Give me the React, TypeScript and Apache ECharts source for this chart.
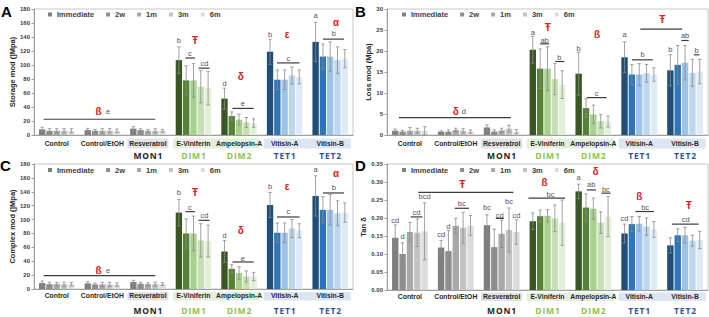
import React, { useEffect, useRef } from 'react';
import * as echarts from 'echarts';

const categories = ['Control', 'Control/EtOH', 'Resveratrol', 'E-Viniferin', 'Ampelopsin-A', 'Vitisin-A', 'Vitisin-B'];
const timepoints = ['Immediate', '2w', '1m', '3m', '6m'];
const compoundClass = ['', '', 'MON1', 'DIM1', 'DIM2', 'TET1', 'TET2'];
// which colour family each category uses
const categoryFamily = ['gray', 'gray', 'gray', 'green', 'green', 'blue', 'blue'];
// categories sharing a shaded label box: [fromCategory, toCategory]
const labelBoxSpans = [[2, 2], [3, 4], [5, 6]];

// ---- Storage modulus (MPa): rows = categories, columns = timepoints
const storageMean = [
  [8, 6, 6, 6, 6],
  [7, 6, 6, 6, 6],
  [9, 7, 6, 6, 6],
  [107, 78, 78, 69, 67],
  [52, 27, 22, 18, 17],
  [119, 79, 79, 85, 83],
  [133, 112, 112, 107, 109],
];
const storageSd = [
  [3, 3, 3, 3, 3],
  [2.5, 2, 3, 3, 2.5],
  [3, 2, 2, 3, 2],
  [19, 21, 24, 23, 24],
  [15, 6, 8, 7, 6],
  [18, 14, 14, 12, 10],
  [28, 18, 21, 19, 13],
];
// significance bars: [fromCategory, fromBar, toCategory, toBar, y]
const storageLines = [
  [0, 0.2, 2, 3.0, 22.5],
  [3, 0.9, 3, 2.2, 110],
  [3, 2.7, 3, 4.2, 95.5],
  [4, 1.1, 4, 4.0, 38],
  [5, 0.95, 5, 4.05, 103],
  [6, 1.0, 6, 3.9, 137],
];
// letters: [category, bar, y, text]
const storageLetters: [number, number, number, string][] = [
  [1, 2.77, 33, 'e'],
  [3, 0, 135, 'b'], [3, 1.5, 116.5, 'c'], [3, 3.5, 102, 'cd'],
  [4, 0, 73, 'd'], [4, 2.5, 45, 'e'],
  [5, 0, 144, 'b'], [5, 2.5, 110, 'c'],
  [6, 0, 171, 'a'], [6, 2.5, 145, 'b'],
];
const storageSymbols: [number, number, number, string][] = [
  [1, 1.48, 33, 'ß'], [3, 2.2, 135, 'Ŧ'], [4, 2.25, 83, 'δ'], [5, 2.35, 144, 'ε'], [6, 2.8, 161, 'α'],
];

// ---- Loss modulus (MPa)
const lossMean = [
  [1.0, 0.8, 1.0, 1.0, 1.0],
  [0.8, 0.8, 1.2, 1.0, 0.8],
  [1.8, 0.8, 1.1, 1.5, 0.8],
  [20.3, 15.8, 15.8, 13.3, 12.0],
  [14.6, 6.4, 4.9, 3.3, 3.2],
  [18.5, 14.4, 14.4, 14.7, 14.4],
  [15.4, 16.7, 17.2, 14.8, 15.1],
];
const lossSd = [
  [0.4, 0.3, 0.8, 0.6, 1.0],
  [0.2, 0.4, 0.4, 0.5, 0.4],
  [0.6, 0.4, 0.5, 0.8, 0.5],
  [3.2, 4.7, 5.2, 3.7, 3.3],
  [5.1, 2.2, 2.2, 1.6, 1.3],
  [3.7, 2.4, 2.6, 2.1, 1.6],
  [3.7, 4.6, 4.1, 3.2, 2.9],
];
const lossLines = [
  [0, 0.5, 2, 3.25, 4.15],
  [3, 1.0, 3, 2.2, 21.7],
  [3, 3.05, 3, 4.3, 17.5],
  [4, 1.1, 4, 3.8, 8.9],
  [5, 1.0, 5, 3.85, 17.9],
  [6, 1.5, 6, 2.5, 22.5],
  [6, 3.2, 6, 3.95, 19.1],
  [5, 2.15, 6, 1.6, 25.2],
];
const lossLetters: [number, number, number, string][] = [
  [1, 3.1, 5.5, 'd'],
  [3, 0, 24.5, 'a'], [3, 1.6, 22.6, 'ab'], [3, 3.6, 18.5, 'b'],
  [4, 0, 20.7, 'b'], [4, 2.45, 9.9, 'c'],
  [5, 0, 23.9, 'a'], [5, 2.45, 19.2, 'b'],
  [6, 0, 20.4, 'b'], [6, 2.0, 23.8, 'ab'], [6, 3.55, 20.1, 'b'],
];
const lossSymbols: [number, number, number, string][] = [
  [1, 2.0, 5.5, 'δ'], [3, 2.05, 25.7, 'Ŧ'], [4, 2.5, 23.9, 'ß'], [6, -1.1, 27.6, 'Ŧ'],
];

// ---- Complex modulus (MPa)
const complexMean = [
  [8.5, 7, 7, 7, 7],
  [8, 6.5, 6.5, 6.5, 6.5],
  [10, 7.5, 7, 7, 7],
  [110, 80, 80, 70, 69],
  [54, 29, 23, 18, 18],
  [121, 81, 81, 87, 84],
  [134, 114, 114, 109, 110],
];
const complexSd = [
  [3, 2.5, 2.5, 3, 2.5],
  [2.5, 2, 3, 3, 2.5],
  [2.5, 2, 2, 3, 2],
  [19, 21, 25, 24, 23],
  [16, 6, 9, 8, 6],
  [18, 14, 14, 13, 10],
  [29, 19, 22, 18, 14],
];
const complexLines = [
  [0, 0.2, 2, 3.0, 19.2],
  [3, 0.9, 3, 2.2, 111.4],
  [3, 2.7, 3, 4.2, 98.9],
  [4, 1.1, 4, 4.0, 38.9],
  [5, 0.95, 5, 4.05, 103.7],
  [6, 1.0, 6, 3.9, 138.3],
];
const complexLetters: [number, number, number, string][] = [
  [1, 2.77, 26.4, 'e'],
  [3, 0, 139, 'b'], [3, 1.5, 117.6, 'c'], [3, 3.5, 106, 'cd'],
  [4, 0, 76.8, 'd'], [4, 2.5, 44.6, 'e'],
  [5, 0, 147, 'b'], [5, 2.5, 110.9, 'c'],
  [6, 0, 172, 'a'], [6, 2.5, 146.4, 'b'],
];
const complexSymbols: [number, number, number, string][] = [
  [1, 1.48, 26.4, 'ß'], [3, 2.2, 139, 'Ŧ'], [4, 2.25, 84, 'δ'], [5, 2.35, 147, 'ε'], [6, 2.8, 166, 'α'],
];

// ---- Tan delta
const tanMean = [
  [0.145, 0.100, 0.161, 0.159, 0.163],
  [0.118, 0.108, 0.178, 0.173, 0.179],
  [0.180, 0.119, 0.156, 0.167, 0.161],
  [0.191, 0.205, 0.206, 0.199, 0.187],
  [0.274, 0.229, 0.226, 0.187, 0.204],
  [0.157, 0.183, 0.184, 0.176, 0.168],
  [0.124, 0.152, 0.152, 0.137, 0.139],
];
const tanSd = [
  [0.036, 0.031, 0.027, 0.038, 0.079],
  [0.020, 0.057, 0.021, 0.043, 0.028],
  [0.029, 0.050, 0.038, 0.061, 0.034],
  [0.023, 0.017, 0.017, 0.037, 0.063],
  [0.020, 0.038, 0.029, 0.030, 0.056],
  [0.026, 0.021, 0.020, 0.024, 0.022],
  [0.021, 0.018, 0.022, 0.015, 0.024],
];
const tanLines = [
  [0, 3.15, 2, 3.6, 0.271],
  [0, 2.1, 0, 3.7, 0.203],
  [1, 1.85, 1, 3.8, 0.227],
  [2, 1.2, 2, 2.3, 0.199],
  [3, -0.6, 3, 4.4, 0.255],
  [4, 1.1, 4, 2.35, 0.278],
  [4, 3.1, 4, 4.35, 0.269],
  [5, 1.5, 5, 4.0, 0.218],
  [6, 0.2, 6, 3.85, 0.183],
];
const tanLetters: [number, number, number, string][] = [
  [0, 0, 0.194, 'cd'], [0, 1, 0.148, 'd'], [0, 2.9, 0.216, 'cd'], [0, 4, 0.259, 'bcd'],
  [1, 0, 0.155, 'cd'], [1, 1, 0.176, 'd'], [1, 2.8, 0.239, 'bc'],
  [2, 0, 0.229, 'bc'], [2, 1.75, 0.208, 'cd'], [2, 3, 0.245, 'bc'], [2, 4, 0.208, 'cd'],
  [3, 2.4, 0.266, 'bc'],
  [4, 0, 0.312, 'a'], [4, 1.7, 0.292, 'ab'], [4, 3.7, 0.28, 'bc'],
  [5, 0, 0.199, 'cd'], [5, 2.8, 0.23, 'bc'],
  [6, 2.1, 0.196, 'cd'],
];
const tanSymbols: [number, number, number, string][] = [
  [1, 2.9, 0.294, 'Ŧ'], [3, 1.6, 0.299, 'ß'], [4, 2.3, 0.329, 'δ'], [5, 2.0, 0.259, 'ß'], [6, 2.5, 0.234, 'Ŧ'],
];

// ---- styling
const FONT = '"Liberation Sans", Arial, sans-serif';
const shades: Record<string, string[]> = {
  gray: ['#7f7f7f', '#8e8e8e', '#a8a8a8', '#c3c3c3', '#dcdcdc'],
  green: ['#385723', '#558235', '#a9d18e', '#c5e0b4', '#e2f0d9'],
  blue: ['#1f4e79', '#2e75b6', '#9dc3e6', '#bdd7ee', '#deebf7'],
};
const boxColors = ['#e2e2e2', '#e2efda', '#dce6f3'];
const classColor: Record<string, string> = { MON: '#262626', DIM: '#8cc34a', TET: '#2f5597' };
const LETTER_COLOR = '#555555';
const SYMBOL_COLOR = '#e0201a';
const CAT_GAP = 0.22;
const BAR_GAP = 0.15;
const NBARS = timepoints.length;

// horizontal shift of bar `pos` from its category centre (same rule ECharts uses)
function barShift(band: number, pos: number) {
  const w = (band * (1 - CAT_GAP)) / (NBARS + (NBARS - 1) * BAR_GAP);
  const total = NBARS * w + (NBARS - 1) * BAR_GAP * w;
  return -total / 2 + pos * w * (1 + BAR_GAP) + w / 2;
}

const panels = [
  {
    tag: 'A', mean: storageMean, sd: storageSd, lines: storageLines, letters: storageLetters, symbols: storageSymbols,
    yName: 'Storage mod (]Mpa)', max: 180, interval: 20, decimals: 0, nameGap: 16,
    grid: { left: 34, top: 9, width: 319, height: 126 }, labelMargin: 5, boxTop: 3.5, boxH: 10, groupDy: 20.5,
    legend: { left: 48, top: 10.5 }, tagPos: { left: 1, top: 4 },
  },
  {
    tag: 'B', mean: lossMean, sd: lossSd, lines: lossLines, letters: lossLetters, symbols: lossSymbols,
    yName: 'Loss mod (Mpa)', max: 30, interval: 5, decimals: 0, nameGap: 12,
    grid: { left: 387, top: 9, width: 321, height: 126 }, labelMargin: 5, boxTop: 3.5, boxH: 10, groupDy: 20.5,
    legend: { left: 402, top: 10.5 }, tagPos: { left: 355, top: 4 },
  },
  {
    tag: 'C', mean: complexMean, sd: complexSd, lines: complexLines, letters: complexLetters, symbols: complexSymbols,
    yName: 'Complex mod (]Mpa)', max: 180, interval: 20, decimals: 0, nameGap: 16,
    grid: { left: 34, top: 164, width: 319, height: 125 }, labelMargin: 3, boxTop: 3, boxH: 8.5, groupDy: 21.5,
    legend: { left: 48, top: 166 }, tagPos: { left: 0, top: 158 },
  },
  {
    tag: 'D', mean: tanMean, sd: tanSd, lines: tanLines, letters: tanLetters, symbols: tanSymbols,
    yName: 'Tan δ', max: 0.35, interval: 0.05, decimals: 2, nameGap: 14,
    grid: { left: 387, top: 164, width: 321, height: 126 }, labelMargin: 2.5, boxTop: 2.5, boxH: 8.5, groupDy: 20.7,
    legend: { left: 402, top: 166 }, tagPos: { left: 355, top: 158 },
  },
];

function bandOf(api: any) {
  return api.coord([1, 0])[0] - api.coord([0, 0])[0];
}

function buildOption() {
  const grid: any[] = [];
  const xAxis: any[] = [];
  const yAxis: any[] = [];
  const series: any[] = [];
  const legend: any[] = [];
  const graphic: any[] = [];

  panels.forEach((p, pi) => {
    grid.push({ ...p.grid, show: true, borderColor: '#c8c8c8', borderWidth: 1, backgroundColor: 'transparent' });
    xAxis.push({
      type: 'category', gridIndex: pi, data: categories,
      axisLine: { lineStyle: { color: '#a0a0a0', width: 1 } },
      axisTick: { show: false },
      axisLabel: { interval: 0, margin: p.labelMargin, fontSize: 6.8, fontWeight: 'bold', color: '#262626', fontFamily: FONT },
      splitLine: { show: false },
      z: 3,
    });
    yAxis.push({
      type: 'value', gridIndex: pi, min: 0, max: p.max, interval: p.interval,
      name: p.yName, nameLocation: 'middle', nameGap: p.nameGap, nameRotate: 90,
      nameTextStyle: { fontSize: 7.5, fontWeight: 'bold', color: '#262626', fontFamily: FONT },
      axisLine: { show: true, lineStyle: { color: '#a0a0a0', width: 1 } },
      axisTick: { show: true, length: 2.5, lineStyle: { color: '#a0a0a0' } },
      axisLabel: {
        fontSize: 6, fontWeight: 'bold', color: '#404040', fontFamily: FONT, margin: 4,
        formatter: (v: number) => v.toFixed(p.decimals),
      },
      splitLine: { show: false },
    });
    legend.push({
      data: timepoints, left: p.legend.left, top: p.legend.top, orient: 'horizontal', padding: 0,
      icon: 'rect', itemWidth: 4, itemHeight: 4, itemGap: 12, selectedMode: false,
      textStyle: { fontSize: 7.5, fontWeight: 'bold', color: '#404040', fontFamily: FONT },
    });
    graphic.push({
      type: 'text', left: p.tagPos.left, top: p.tagPos.top,
      style: { text: p.tag, fontSize: 15, fontWeight: 'bold', fill: '#000', fontFamily: FONT },
    });

    // label boxes and compound class names under the axis
    series.push({
      type: 'custom', xAxisIndex: pi, yAxisIndex: pi, z: -1, silent: true, clip: false,
      itemStyle: { color: boxColors[0] },
      data: labelBoxSpans.map((s) => [s[0], 0]),
      renderItem: (params: any, api: any) => {
        const s = labelBoxSpans[params.dataIndex];
        const band = bandOf(api);
        const x1 = api.coord([s[0], 0])[0] - band * 0.45;
        const x2 = api.coord([s[1], 0])[0] + band * 0.45;
        const y0 = api.coord([0, 0])[1];
        return {
          type: 'rect',
          shape: { x: x1, y: y0 + p.boxTop, width: x2 - x1, height: p.boxH },
          style: { fill: boxColors[params.dataIndex] },
        };
      },
    });
    const classIdx = compoundClass.map((c, i) => (c ? i : -1)).filter((i) => i >= 0);
    series.push({
      type: 'custom', xAxisIndex: pi, yAxisIndex: pi, silent: true, clip: false,
      itemStyle: { color: '#262626' },
      data: classIdx.map((i) => [i, 0]),
      renderItem: (params: any, api: any) => {
        const ci = classIdx[params.dataIndex];
        const name = compoundClass[ci];
        const pt = api.coord([ci, 0]);
        return {
          type: 'text', x: pt[0], y: pt[1] + p.groupDy,
          style: {
            text: name.split('').join('\u200a'), fill: classColor[name.slice(0, 3)], fontSize: 8.5, fontWeight: 'bold',
            fontFamily: '"Open Sans", "Liberation Sans", sans-serif', align: 'center', verticalAlign: 'middle',
          },
        };
      },
    });

    // bars
    timepoints.forEach((tp, t) => {
      series.push({
        type: 'bar', name: tp, xAxisIndex: pi, yAxisIndex: pi,
        barCategoryGap: `${CAT_GAP * 100}%`, barGap: `${BAR_GAP * 100}%`,
        itemStyle: { color: shades.gray[t] },
        data: p.mean.map((row, c) => ({ value: row[t], itemStyle: { color: shades[categoryFamily[c]][t] } })),
      });
    });

    // error bars
    const errItems: { c: number; t: number; m: number; s: number }[] = [];
    p.mean.forEach((row, c) => row.forEach((m, t) => errItems.push({ c, t, m, s: p.sd[c][t] })));
    series.push({
      type: 'custom', xAxisIndex: pi, yAxisIndex: pi, silent: true, z: 4,
      itemStyle: { color: '#8a8a8a' },
      data: errItems.map((e) => [e.c, e.m]),
      renderItem: (params: any, api: any) => {
        const e = errItems[params.dataIndex];
        const band = bandOf(api);
        const x = api.coord([e.c, 0])[0] + barShift(band, e.t);
        const yHi = api.coord([e.c, e.m + e.s])[1];
        const yLo = api.coord([e.c, Math.max(0, e.m - e.s)])[1];
        const cap = 1.7;
        const st = { stroke: '#8a8a8a', lineWidth: 0.8, fill: 'none' };
        return {
          type: 'group',
          children: [
            { type: 'line', shape: { x1: x, y1: yHi, x2: x, y2: yLo }, style: st },
            { type: 'line', shape: { x1: x - cap, y1: yHi, x2: x + cap, y2: yHi }, style: st },
            { type: 'line', shape: { x1: x - cap, y1: yLo, x2: x + cap, y2: yLo }, style: st },
          ],
        };
      },
    });

    // significance bars
    series.push({
      type: 'custom', xAxisIndex: pi, yAxisIndex: pi, silent: true, z: 5,
      itemStyle: { color: '#3c3c3c' },
      data: p.lines.map((l) => [l[0], l[4]]),
      renderItem: (params: any, api: any) => {
        const l = p.lines[params.dataIndex];
        const band = bandOf(api);
        const x1 = api.coord([l[0], l[4]])[0] + barShift(band, l[1]);
        const x2 = api.coord([l[2], l[4]])[0] + barShift(band, l[3]);
        const y = api.coord([l[0], l[4]])[1];
        return { type: 'line', shape: { x1, y1: y, x2, y2: y }, style: { stroke: '#3c3c3c', lineWidth: 1.2 } };
      },
    });

    // grouping letters and red symbols
    const textSeries = (items: [number, number, number, string][], red: boolean) => ({
      type: 'custom', xAxisIndex: pi, yAxisIndex: pi, silent: true, z: 6,
      colorBy: 'series',
      itemStyle: { color: red ? SYMBOL_COLOR : LETTER_COLOR },
      data: items.map((it) => [it[0], it[2]]),
      renderItem: (params: any, api: any) => {
        const it = items[params.dataIndex];
        const band = bandOf(api);
        const pt = api.coord([it[0], it[2]]);
        return {
          type: 'text', x: pt[0] + barShift(band, it[1]), y: pt[1],
          style: red
            ? { text: it[3], fill: SYMBOL_COLOR, fontSize: 10, fontWeight: 'bold', fontFamily: FONT, align: 'center', verticalAlign: 'middle' }
            : { text: it[3], fill: LETTER_COLOR, fontSize: 7.5, fontFamily: FONT, align: 'center', verticalAlign: 'middle' },
        };
      },
    });
    series.push(textSeries(p.letters, false));
    series.push(textSeries(p.symbols, true));
  });

  return { animation: false, backgroundColor: '#ffffff', grid, xAxis, yAxis, series, legend, graphic };
}

export default function App() {
  const ref = useRef<HTMLDivElement>(null);
  useEffect(() => {
    if (!ref.current) return;
    const chart = echarts.init(ref.current, undefined, { renderer: 'svg' });
    chart.setOption(buildOption() as any);
    return () => chart.dispose();
  }, []);
  return (
    <div
      ref={ref}
      style={{ position: 'fixed', left: 0, top: 0, width: 709, height: 317, background: '#fff' }}
    />
  );
}
